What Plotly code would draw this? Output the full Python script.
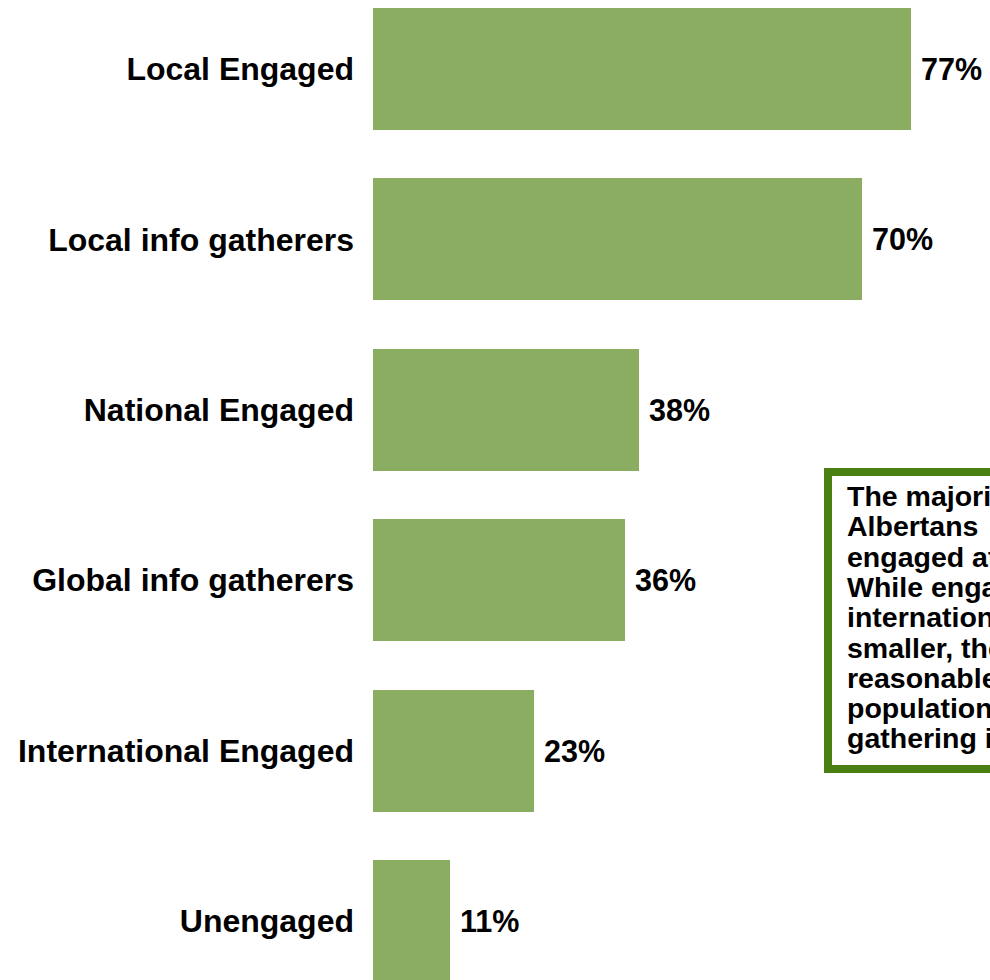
import plotly.graph_objects as go

# Share of respondents in each engagement segment (%)
categories = [
    "Local Engaged",
    "Local info gatherers",
    "National Engaged",
    "Global info gatherers",
    "International Engaged",
    "Unengaged",
]
values = [77, 70, 38, 36, 23, 11]
value_labels = ["77%", "70%", "38%", "36%", "23%", "11%"]

# Callout text, one entry per line
callout_lines = [
    "The majority of",
    "Albertans\u00a0\u00a0\u00a0\u00a0\u00a0are",
    "engaged at the local level.",
    "While engagement at the",
    "international level is",
    "smaller, there is a",
    "reasonable portion of the",
    "population that is",
    "gathering information.",
]

W, H = 990, 980
L_MARGIN = 373
PLOT_W = W - L_MARGIN

BAR_COLOR = "#8aad62"
BOX_COLOR = "#4a8012"
FONT = "Arial, Liberation Sans, Helvetica, sans-serif"

positions = list(range(len(categories)))

fig = go.Figure(
    go.Bar(
        x=values,
        y=positions,
        orientation="h",
        width=0.716,
        marker=dict(color=BAR_COLOR, line=dict(width=0)),
        hoverinfo="skip",
    )
)

# value labels just past the end of each bar
for pos, val, lab in zip(positions, values, value_labels):
    fig.add_annotation(
        x=val, y=pos, xref="x", yref="y",
        text=lab, showarrow=False,
        xanchor="left", yanchor="middle", xshift=8,
        font=dict(family=FONT, size=30.5, color="black", weight="bold"),
    )


def px_x(px):
    return (px - L_MARGIN) / PLOT_W


def px_y(py):
    return (H - py) / H


# callout box, running off the right edge
fig.add_shape(
    type="rect", xref="paper", yref="paper",
    x0=px_x(828), x1=px_x(1100), y0=px_y(769), y1=px_y(472),
    line=dict(color=BOX_COLOR, width=8),
    fillcolor="white", layer="above",
)

text_size = 28.5
first_baseline = 506
line_pitch = 30.3
for i, line in enumerate(callout_lines):
    baseline = first_baseline + i * line_pitch
    fig.add_annotation(
        x=px_x(846), y=px_y(baseline - 0.35 * text_size),
        xref="paper", yref="paper",
        text=line, showarrow=False,
        xanchor="left", yanchor="middle",
        borderpad=0,
        font=dict(family=FONT, size=text_size, color="black", weight="bold"),
    )

fig.update_layout(
    width=W, height=H,
    margin=dict(l=L_MARGIN, r=0, t=0, b=0),
    paper_bgcolor="white", plot_bgcolor="white",
    showlegend=False,
    bargap=0,
    xaxis=dict(
        range=[0, PLOT_W / 6.987],
        visible=False, showgrid=False, zeroline=False, fixedrange=True,
    ),
    yaxis=dict(
        range=[5.346, -0.405],
        tickmode="array", tickvals=positions, ticktext=categories,
        showgrid=False, zeroline=False, showline=False, ticks="",
        ticklabelstandoff=18,
        tickfont=dict(family=FONT, size=32, color="black", weight="bold"),
        fixedrange=True,
    ),
)

fig.write_html("out.html")
